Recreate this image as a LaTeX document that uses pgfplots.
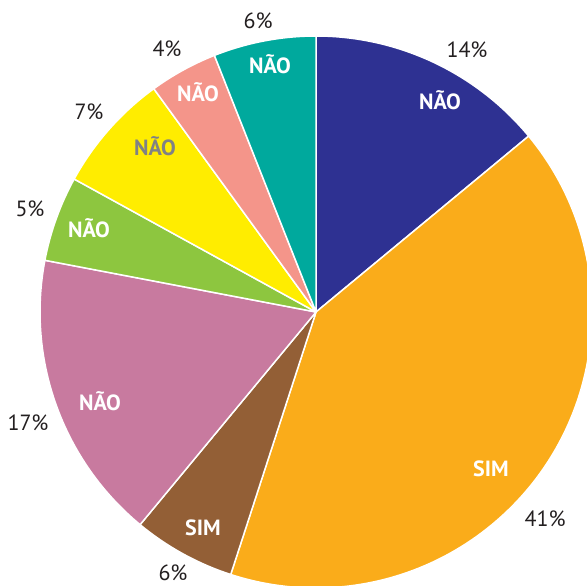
\documentclass[border=0pt]{standalone}
\usepackage{pgfplots}
\pgfplotsset{compat=1.18}
\usepackage{fontspec}
\setmainfont{PT Sans}
\definecolor{cNavy}{HTML}{2E3192}
\definecolor{cOrange}{HTML}{FAAC1A}
\definecolor{cBrown}{HTML}{935F36}
\definecolor{cPink}{HTML}{C87A9F}
\definecolor{cGreen}{HTML}{8DC63F}
\definecolor{cYellow}{HTML}{FFED00}
\definecolor{cSalmon}{HTML}{F4958A}
\definecolor{cTeal}{HTML}{00A99D}
\definecolor{cText}{HTML}{231F20}
\definecolor{cGrayText}{HTML}{808285}
% #1 = cumulative percent before slice, #2 = percent, #3 = colour
\newcommand{\slice}[3]{%
  \fill[#3, draw=white, line width=0.75pt, line join=round]
    (axis cs:0,0) -- (axis cs:{276*cos(90-3.6*#1)},{276*sin(90-3.6*#1)})
    arc[start angle={90-3.6*#1}, end angle={90-3.6*(#1+#2)}, radius=138pt] -- cycle;}
\begin{document}
\begin{tikzpicture}
\begin{axis}[
  x=0.5pt, y=0.5pt,
  xmin=-316, xmax=271, ymin=-273, ymax=312,
  hide axis, clip=true,
]
\coordinate (ll) at (axis cs:-316,-273);
\coordinate (ur) at (axis cs:271,312);
\slice{0}{14}{cNavy}
\slice{14}{41}{cOrange}
\slice{55}{6}{cBrown}
\slice{61}{17}{cPink}
\slice{78}{5}{cGreen}
\slice{83}{7}{cYellow}
\slice{90}{4}{cSalmon}
\slice{94}{6}{cTeal}
% inner labels
\begin{scope}[every node/.style={font=\fontsize{11}{12}\selectfont\bfseries, text=white, inner sep=0pt}]
\node at (axis cs:124,212) {NÃO};
\node at (axis cs:175,-157) {SIM};
\node at (axis cs:-113,-216) {SIM};
\node at (axis cs:-216,-89) {NÃO};
\node at (axis cs:-227,84) {NÃO};
\node[text=cGrayText] at (axis cs:-161,166) {NÃO};
\node at (axis cs:-118,220) {NÃO};
\node at (axis cs:-46,248) {NÃO};
\end{scope}
% outer percentages
\begin{scope}[every node/.style={font=\fontsize{11}{12}\selectfont, text=cText, inner sep=0pt}]
\node at (axis cs:151,262) {14\%};
\node at (axis cs:229,-207) {41\%};
\node at (axis cs:-143,-261) {6\%};
\node at (axis cs:-288,-111) {17\%};
\node at (axis cs:-286,103) {5\%};
\node at (axis cs:-227,200) {7\%};
\node at (axis cs:-149,263) {4\%};
\node at (axis cs:-58,291) {6\%};
\end{scope}
\end{axis}
\pgfresetboundingbox
\path[use as bounding box] (ll) rectangle (ur);
\end{tikzpicture}
\end{document}
